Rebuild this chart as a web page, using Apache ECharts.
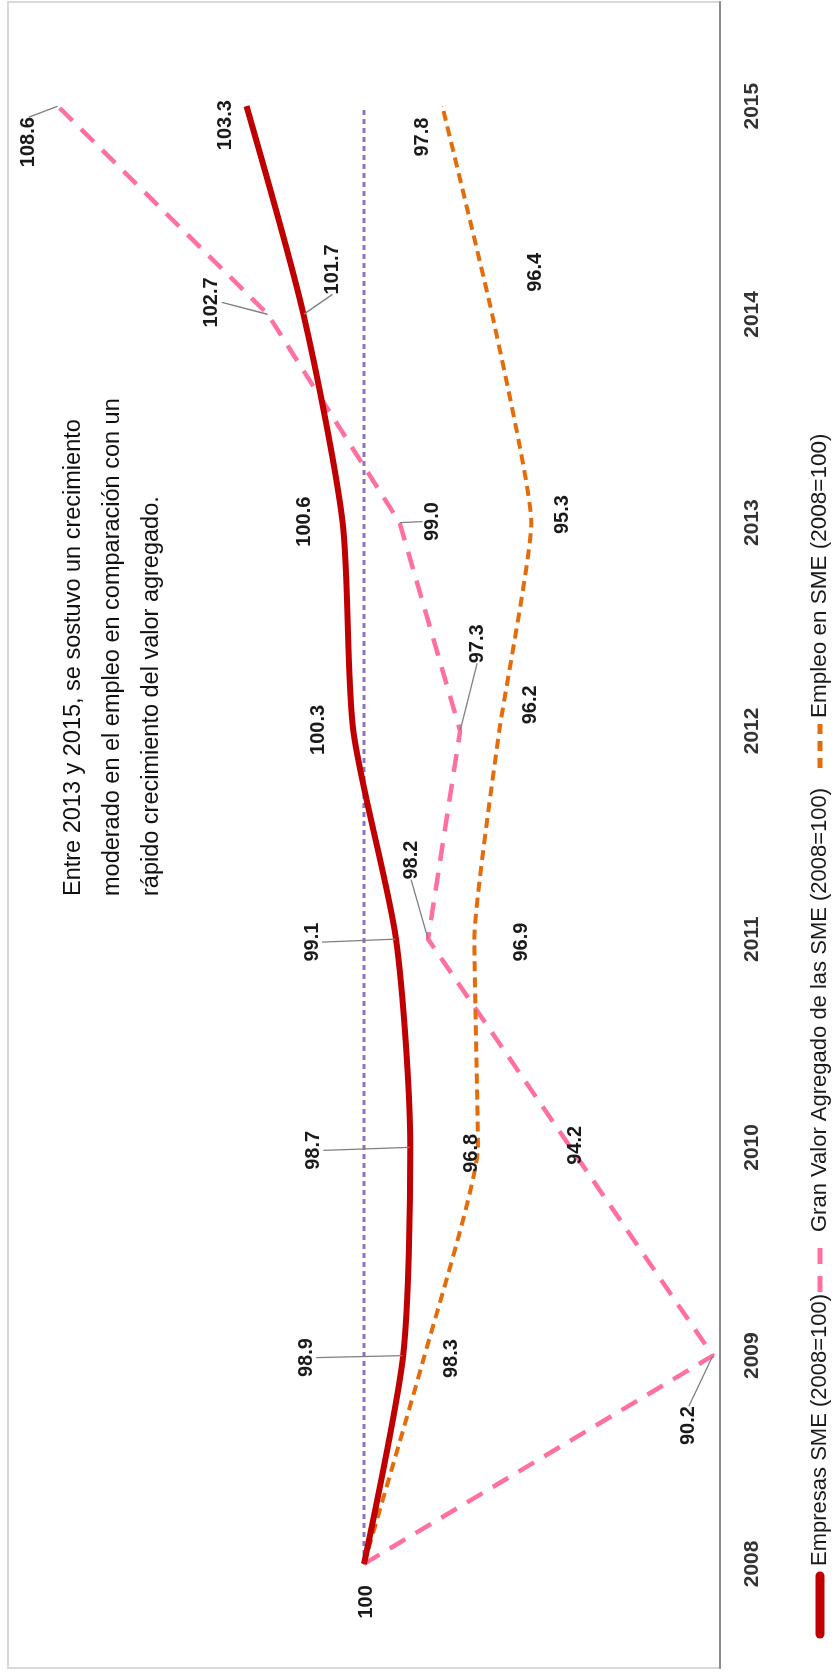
<!DOCTYPE html>
<html>
<head>
<meta charset="utf-8">
<script src="https://cdn.jsdelivr.net/npm/echarts@6/dist/echarts.min.js"></script>
<style>
  html, body { margin: 0; padding: 0; background: #ffffff; overflow: hidden; }
  #chart { width: 839px; height: 1676px; }
</style>
</head>
<body>
<div id="chart"></div>
<script>
// ---------- data ----------
const years = ['2008', '2009', '2010', '2011', '2012', '2013', '2014', '2015'];
const empresasSME = [100, 98.9, 98.7, 99.1, 100.3, 100.6, 101.7, 103.3];
const valorAgregadoSME = [100, 90.2, 94.2, 98.2, 97.3, 99.0, 102.7, 108.6];
const empleoSME = [100, 98.3, 96.8, 96.9, 96.2, 95.3, 96.4, 97.8];
const baseLine = [100, 100, 100, 100, 100, 100, 100, 100];

const legendNames = [
  'Empresas SME (2008=100)',
  'Gran Valor Agregado de las SME (2008=100)',
  'Empleo en SME (2008=100)'
];
const noteLines = [
  'Entre 2013 y 2015, se sostuvo un crecimiento',
  'moderado en el empleo en comparación con un',
  'rápido crecimiento del valor agregado.'
];

// ---------- label layout (screen offsets [right, down] from each point, px) ----------
const offEmpresas = [[2, 38], [-97, 2], [-97, 3], [-84, 3], [-35, -1], [-38, -1], [29, -45], [-21, 19]];
const offValor    = [null, [-24, 70], [5, -2], [-17, -79], [17, -87], [33, -1], [-56, -12], [-29, 36]];
const offEmpleo   = [null, [27, 3], [-6, 6], [47, 3], [31, -26], [31, -8], [43, -42], [-20, 31]];
const leadEmpresas = [false, true, true, true, false, false, true, false];
const leadValor    = [false, true, false, true, true, true, true, true];
const leadEmpleo   = [false, false, false, false, false, false, false, false];

const FONT = '"Liberation Sans", Arial, sans-serif';

function buildData(values, offsets, leaders) {
  return values.map((v, i) => ({
    value: v,
    label: { show: offsets[i] !== null },
    labelLine: { show: leaders[i] }
  }));
}

// labels are rotated 90deg, so dx/dy act in the rotated frame:
// screen (sx, sy) -> local (dx = -sy, dy = sx)
function layoutFrom(offsets) {
  return p => {
    const o = offsets[p.dataIndex] || [0, 0];
    return { dx: -o[1], dy: o[0] };
  };
}

const labelCommon = {
  show: true,
  position: 'inside',
  rotate: 90,
  fontFamily: FONT,
  fontSize: 20,
  fontWeight: 'bold',
  color: '#1a1a1a',
  formatter: p => (p.value === 100 ? '100' : Number(p.value).toFixed(1))
};
const labelLineCommon = {
  show: true,
  lineStyle: { color: '#7f7f7f', width: 1.3 }
};

const chart = echarts.init(document.getElementById('chart'), null, { renderer: 'canvas' });

const option = {
  animation: false,
  backgroundColor: '#ffffff',
  grid: {
    left: 8, right: 119, top: 2, bottom: 8,
    show: true,
    borderColor: '#d9d9d9',
    borderWidth: 2,
    backgroundColor: '#ffffff'
  },
  xAxis: {
    type: 'value',
    min: 90,
    max: 110,
    interval: 5,
    inverse: true,
    axisLine: { show: false },
    axisTick: { show: false },
    axisLabel: { show: false },
    splitLine: { show: false }
  },
  yAxis: {
    type: 'category',
    data: years,
    position: 'right',
    boundaryGap: true,
    axisLine: { show: true, lineStyle: { color: '#8c8c8c', width: 2 } },
    axisTick: { show: false },
    axisLabel: {
      rotate: 90,
      margin: 22,
      fontFamily: FONT,
      fontSize: 21,
      fontWeight: 'bold',
      color: '#333333'
    },
    splitLine: { show: false }
  },
  series: [
    {
      name: 'base',
      type: 'line',
      data: baseLine,
      symbol: 'none',
      silent: true,
      z: 1,
      lineStyle: { color: '#8d72c0', width: 3, type: [5, 4] }
    },
    {
      name: legendNames[1],
      type: 'line',
      data: buildData(valorAgregadoSME, offValor, leadValor),
      symbol: 'circle',
      symbolSize: 1,
      itemStyle: { color: '#ff6fa0' },
      lineStyle: { color: '#ff6fa0', width: 4.5, type: [18, 12] },
      z: 2,
      label: labelCommon,
      labelLine: labelLineCommon,
      labelLayout: layoutFrom(offValor)
    },
    {
      name: legendNames[2],
      type: 'line',
      data: buildData(empleoSME, offEmpleo, leadEmpleo),
      symbol: 'circle',
      symbolSize: 1,
      smooth: 0.15,
      itemStyle: { color: '#e46c0a' },
      lineStyle: { color: '#e46c0a', width: 4, type: [10, 6] },
      z: 3,
      label: labelCommon,
      labelLine: labelLineCommon,
      labelLayout: layoutFrom(offEmpleo)
    },
    {
      name: legendNames[0],
      type: 'line',
      data: buildData(empresasSME, offEmpresas, leadEmpresas),
      symbol: 'circle',
      symbolSize: 1,
      smooth: 0.25,
      itemStyle: { color: '#c00000' },
      lineStyle: { color: '#c00000', width: 6 },
      z: 4,
      label: labelCommon,
      labelLine: labelLineCommon,
      labelLayout: layoutFrom(offEmpresas)
    }
  ],
  graphic: [
    {
      type: 'group',
      x: 820,
      y: 1634,
      rotation: Math.PI / 2,
      children: [
        { type: 'line', shape: { x1: 0, y1: 0, x2: 58, y2: 0 },
          style: { stroke: '#c00000', lineWidth: 9, lineCap: 'round' } },
        { type: 'text', x: 68, y: 0,
          style: { text: legendNames[0], font: '22px ' + FONT, fill: '#1a1a1a',
                   textAlign: 'left', textVerticalAlign: 'middle', align: 'left', verticalAlign: 'middle' } },
        { type: 'line', shape: { x1: 342, y1: 0, x2: 396, y2: 0 },
          style: { stroke: '#ff6fa0', lineWidth: 5, lineDash: [16, 12] } },
        { type: 'text', x: 402, y: 0,
          style: { text: legendNames[1], font: '22px ' + FONT, fill: '#1a1a1a',
                   textAlign: 'left', textVerticalAlign: 'middle', align: 'left', verticalAlign: 'middle' } },
        { type: 'line', shape: { x1: 866, y1: 0, x2: 910, y2: 0 },
          style: { stroke: '#e46c0a', lineWidth: 5, lineDash: [10, 7] } },
        { type: 'text', x: 916, y: 0,
          style: { text: legendNames[2], font: '22.5px ' + FONT, fill: '#1a1a1a',
                   textAlign: 'left', textVerticalAlign: 'middle', align: 'left', verticalAlign: 'middle' } }
      ]
    },
    {
      type: 'text',
      x: 54,
      y: 896,
      rotation: Math.PI / 2,
      style: {
        text: noteLines.join('\n'),
        font: '23.5px ' + FONT,
        lineHeight: 39,
        fill: '#111111',
        textAlign: 'left', textVerticalAlign: 'top', align: 'left', verticalAlign: 'top'
      }
    }
  ]
};

chart.setOption(option);
</script>
</body>
</html>
